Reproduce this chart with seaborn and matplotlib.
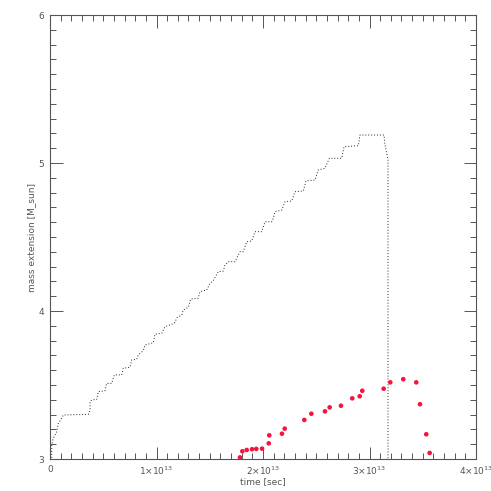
import matplotlib
matplotlib.use("Agg")
import matplotlib.pyplot as plt
from matplotlib.ticker import MultipleLocator, FixedLocator
import seaborn as sns
import pandas as pd

# mass extension track (time in units of 1e13 sec)
track_t = [0.0, 0.016, 0.016, 0.031, 0.063, 0.078, 0.094, 0.125, 0.360, 0.376, 0.376,
           0.392, 0.439, 0.454, 0.516, 0.532, 0.579, 0.604, 0.673, 0.688, 0.751,
           0.767, 0.814, 0.829, 0.876, 0.892, 0.970, 0.986, 1.049, 1.080, 1.167,
           1.195, 1.237, 1.252, 1.299, 1.321, 1.392, 1.408, 1.471, 1.502, 1.533,
           1.580, 1.627, 1.643, 1.674, 1.737, 1.784, 1.815, 1.847, 1.894, 1.925,
           1.988, 2.019, 2.082, 2.097, 2.113, 2.176, 2.207, 2.270, 2.300, 2.378,
           2.404, 2.488, 2.519, 2.582, 2.623, 2.739, 2.761, 2.895, 2.911, 3.136,
           3.146, 3.174, 3.174]
track_m = [3.0, 3.0, 3.095, 3.140, 3.184, 3.241, 3.257, 3.297, 3.302, 3.331, 3.387,
           3.399, 3.403, 3.455, 3.461, 3.511, 3.511, 3.568, 3.568, 3.613, 3.620,
           3.669, 3.674, 3.703, 3.732, 3.770, 3.786, 3.843, 3.849, 3.894, 3.917,
           3.957, 3.973, 4.007, 4.025, 4.081, 4.086, 4.130, 4.142, 4.187, 4.205,
           4.266, 4.270, 4.311, 4.333, 4.333, 4.401, 4.401, 4.468, 4.473, 4.536,
           4.536, 4.603, 4.603, 4.626, 4.671, 4.682, 4.739, 4.743, 4.806, 4.811,
           4.880, 4.885, 4.953, 4.964, 5.032, 5.032, 5.110, 5.117, 5.189, 5.189,
           5.122, 5.020, 3.0]

# red points
pts_t = [1.784, 1.806, 1.847, 1.897, 1.937, 1.991, 2.054, 2.059, 2.178, 2.204,
         2.388, 2.454, 2.582, 2.626, 2.732, 2.838, 2.908, 2.932, 3.133, 3.195,
         3.317, 3.439, 3.474, 3.533, 3.565]
pts_m = [3.011, 3.052, 3.061, 3.066, 3.068, 3.070, 3.106, 3.160, 3.171, 3.205,
         3.264, 3.306, 3.322, 3.349, 3.360, 3.410, 3.424, 3.461, 3.475, 3.518,
         3.539, 3.518, 3.370, 3.167, 3.041]

xticks = [0, 1, 2, 3, 4]
xticklabels = ["0", r"1$\times$10$^{13}$", r"2$\times$10$^{13}$",
               r"3$\times$10$^{13}$", r"4$\times$10$^{13}$"]
yticks = [3, 4, 5, 6]

sns.set_style("ticks")
plt.rcParams['font.family'] = ['DejaVu Sans']
gray = "#555555"

fig = plt.figure(figsize=(4.91, 4.91), dpi=100)
ax = fig.add_axes([50 / 491, 32 / 491, 426 / 491, 444 / 491])

track = pd.DataFrame({"t": track_t, "m": track_m})
pts = pd.DataFrame({"t": pts_t, "m": pts_m})

sns.lineplot(data=track, x="t", y="m", sort=False, estimator=None, ax=ax,
             color="#222222", linewidth=0.7, linestyle=(0, (1, 2)))
sns.scatterplot(data=pts, x="t", y="m", ax=ax, color="#f5143c", s=11,
                edgecolor="none", zorder=3)

ax.set_xlim(0, 4)
ax.set_ylim(3, 6)
ax.xaxis.set_major_locator(FixedLocator(xticks))
ax.set_xticklabels(xticklabels)
ax.yaxis.set_major_locator(FixedLocator(yticks))
ax.xaxis.set_minor_locator(MultipleLocator(0.1))
ax.yaxis.set_minor_locator(MultipleLocator(0.1))

ax.tick_params(which="both", direction="in", top=True, right=True,
               color=gray, labelcolor=gray, labelsize=6.5, width=0.7)
ax.tick_params(which="major", length=9, pad=4)
ax.tick_params(which="minor", length=4.5)
for s in ax.spines.values():
    s.set_color(gray)
    s.set_linewidth(0.8)

ax.set_xlabel("time [sec]", fontsize=6.5, color=gray, labelpad=0)
ax.set_ylabel("mass extension [M_sun]", fontsize=6.5, color=gray, labelpad=2)

fig.savefig("out.png", dpi=100)
